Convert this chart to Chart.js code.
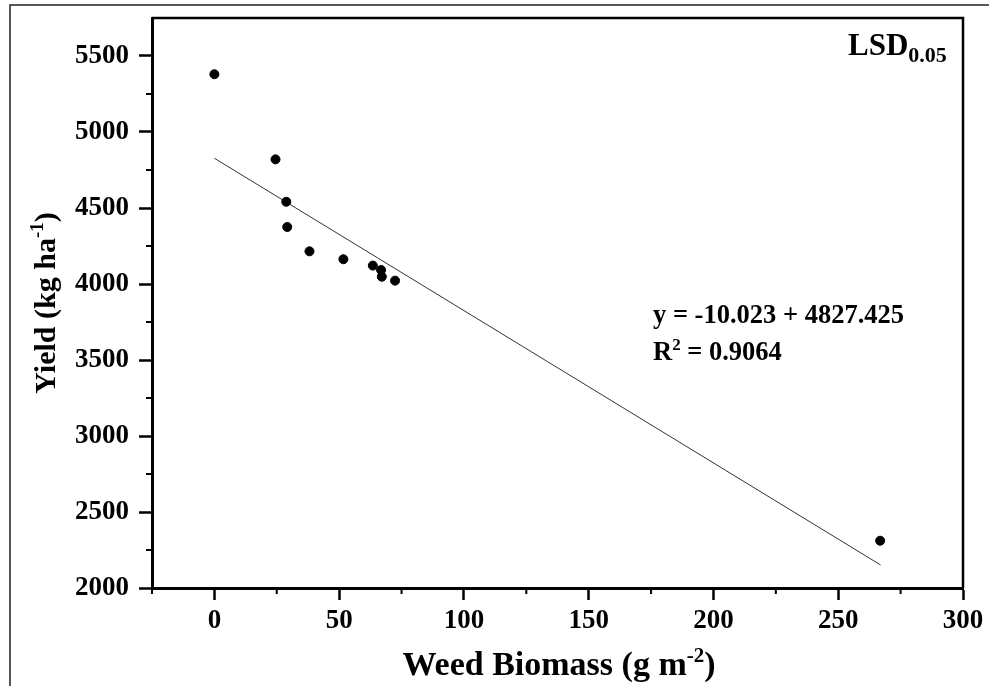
<!DOCTYPE html>
<html>
<head>
<meta charset="utf-8">
<script src="https://cdn.jsdelivr.net/npm/chart.js@4/dist/chart.umd.min.js"></script>
<style>
  html, body { margin: 0; padding: 0; background: #fff; }
  canvas { display: block; }
</style>
</head>
<body>
<canvas id="scatterChart" width="989" height="686"></canvas>
<script>
// values
const biomass = [0, 24.5, 28.8, 29.2, 38.1, 51.7, 63.5, 66.8, 67.1, 72.4, 266.8];
const yieldKg = [5380, 4820, 4541, 4375, 4215, 4163, 4121, 4092, 4048, 4022, 2311];
const fitX = [0, 267];
const fitY = [4827.4, 2151.3];
const xTicks = [0, 50, 100, 150, 200, 250, 300];
const yTicks = [2000, 2500, 3000, 3500, 4000, 4500, 5000, 5500];

const serif = '"Liberation Serif", "Times New Roman", serif';

// draws text pieces one after another: [text, size, dy]
function richWidth(ctx, parts) {
    let w = 0;
    parts.forEach(p => { ctx.font = 'bold ' + p[1] + 'px ' + serif; w += ctx.measureText(p[0]).width; });
    return w;
}
function richText(ctx, x, y, parts) {
    let cx = x;
    parts.forEach(p => {
        ctx.font = 'bold ' + p[1] + 'px ' + serif;
        ctx.fillText(p[0], cx, y + p[2]);
        cx += ctx.measureText(p[0]).width;
    });
}

const extras = {
    id: 'extras',
    afterDraw(chart) {
        const ctx = chart.ctx;
        const a = chart.chartArea;
        const xs = chart.scales.x, ys = chart.scales.y;
        ctx.save();
        ctx.strokeStyle = '#000';

        // top and right edges of the plot box
        ctx.lineWidth = 2.5;
        ctx.beginPath();
        ctx.moveTo(a.left, a.top); ctx.lineTo(a.right, a.top); ctx.lineTo(a.right, a.bottom);
        ctx.stroke();

        // minor ticks
        ctx.lineWidth = 2;
        ctx.beginPath();
        xs.ticks.forEach(t => {
            if (xTicks.indexOf(t.value) < 0) {
                const px = xs.getPixelForValue(t.value);
                ctx.moveTo(px, a.bottom); ctx.lineTo(px, a.bottom + 6);
            }
        });
        ys.ticks.forEach(t => {
            if (yTicks.indexOf(t.value) < 0 && t.value < ys.max) {
                const py = ys.getPixelForValue(t.value);
                ctx.moveTo(a.left, py); ctx.lineTo(a.left - 6, py);
            }
        });
        ctx.stroke();

        // outer frame (top and left)
        ctx.lineWidth = 1.5;
        ctx.strokeStyle = '#222';
        ctx.beginPath();
        ctx.moveTo(989, 5); ctx.lineTo(10, 5); ctx.lineTo(10, 686);
        ctx.stroke();

        ctx.fillStyle = '#000';
        ctx.textBaseline = 'alphabetic';
        ctx.textAlign = 'left';

        // axis titles
        const xt = [['Weed Biomass (g m', 34, 0], ['-2', 21, -13], [')', 34, 0]];
        richText(ctx, 559 - richWidth(ctx, xt) / 2, 675, xt);

        const yt = [['Yield (kg ha', 30, 0], ['-1', 19, -12], [')', 30, 0]];
        ctx.save();
        ctx.translate(55, (a.top + a.bottom) / 2);
        ctx.rotate(-Math.PI / 2);
        richText(ctx, -richWidth(ctx, yt) / 2, 0, yt);
        ctx.restore();

        // annotations
        richText(ctx, 848, 55, [['LSD', 31, 0], ['0.05', 22, 7]]);
        richText(ctx, 653, 323, [['y = -10.023 + 4827.425', 26.5, 0]]);
        richText(ctx, 653, 360, [['R', 26.5, 0], ['2', 17, -10], [' = 0.9064', 26.5, 0]]);

        ctx.restore();
    }
};

const ctx = document.getElementById('scatterChart').getContext('2d');
new Chart(ctx, {
    type: 'scatter',
    data: {
        datasets: [{
            label: 'Yield',
            data: biomass.map((v, i) => ({ x: v, y: yieldKg[i] })),
            backgroundColor: '#000',
            borderColor: '#000',
            pointRadius: 4.5,
            pointHoverRadius: 4.5
        }, {
            label: 'Fit',
            data: fitX.map((v, i) => ({ x: v, y: fitY[i] })),
            showLine: true,
            borderColor: '#333',
            borderWidth: 1,
            pointRadius: 0
        }]
    },
    options: {
        responsive: false,
        animation: false,
        layout: { padding: { left: 0, top: 18, right: 26, bottom: 0 } },
        plugins: {
            legend: { display: false },
            tooltip: { enabled: false }
        },
        scales: {
            x: {
                type: 'linear',
                min: -25,
                max: 300,
                afterFit(scale) {
                    scale.height = 98;
                    scale.paddingLeft = 0;
                    scale.paddingRight = 0;
                },
                border: { color: '#000', width: 3 },
                grid: {
                    drawOnChartArea: false,
                    tickLength: 12,
                    tickWidth: 2.5,
                    tickColor: c => xTicks.indexOf(c.tick.value) >= 0 ? '#000' : 'rgba(0,0,0,0)'
                },
                ticks: {
                    stepSize: 25,
                    autoSkip: false,
                    maxRotation: 0,
                    padding: 5,
                    color: '#000',
                    font: { family: serif, size: 27, weight: 'bold' },
                    callback: v => xTicks.indexOf(v) >= 0 ? String(v) : ''
                }
            },
            y: {
                min: 2000,
                max: 5750,
                afterFit(scale) {
                    scale.width = 152;
                    scale.paddingTop = 0;
                    scale.paddingBottom = 0;
                },
                border: { color: '#000', width: 3 },
                grid: {
                    drawOnChartArea: false,
                    tickLength: 13,
                    tickWidth: 2.5,
                    tickColor: c => yTicks.indexOf(c.tick.value) >= 0 ? '#000' : 'rgba(0,0,0,0)'
                },
                ticks: {
                    stepSize: 250,
                    autoSkip: false,
                    padding: 10,
                    color: '#000',
                    font: { family: serif, size: 27, weight: 'bold' },
                    callback: v => yTicks.indexOf(v) >= 0 ? String(v) : ''
                }
            }
        }
    },
    plugins: [extras]
});
</script>
</body>
</html>
